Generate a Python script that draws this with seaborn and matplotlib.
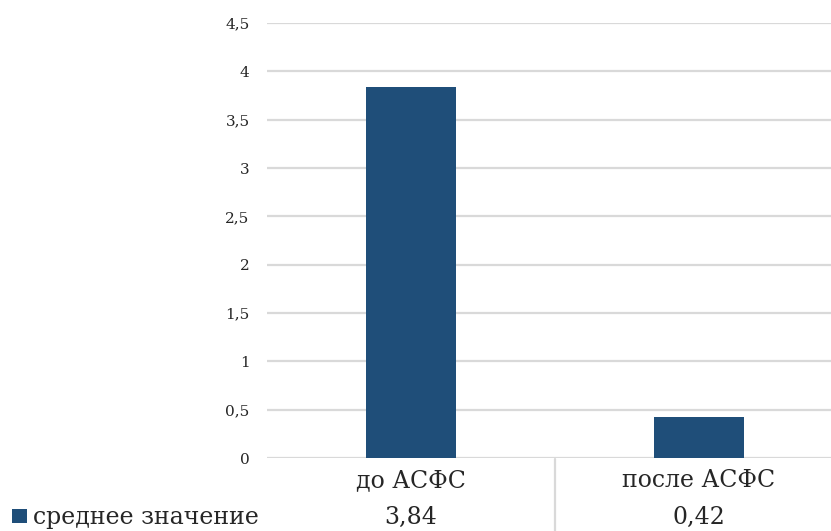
import matplotlib
matplotlib.use("Agg")
import matplotlib.pyplot as plt
import matplotlib.transforms as mtransforms
from matplotlib.patches import Rectangle
from matplotlib.lines import Line2D
from matplotlib.font_manager import FontProperties
import seaborn as sns

categories = ["до АСФС", "после АСФС"]
values = [3.84, 0.42]
series_name = "среднее значение"
y_ticks = [0, 0.5, 1, 1.5, 2, 2.5, 3, 3.5, 4, 4.5]

bar_color = "#1f4e79"
grid_color = "#d9d9d9"
text_color = "#262626"

sns.set_theme(style="white")

table_fp = FontProperties(family="DejaVu Serif", size=17)
tick_fp = FontProperties(family="DejaVu Serif", size=11)

W, H = 831, 531
fig = plt.figure(figsize=(W / 100, H / 100), dpi=100)
ax = fig.add_axes([267 / W, (H - 458) / H, 1 - 267 / W, (458 - 23) / H])

sns.barplot(x=categories, y=values, color=bar_color, width=0.3125,
            saturation=1, ax=ax, edgecolor=bar_color, linewidth=0)

# category band is 288 px wide; the right band runs past the figure edge
ax.set_xlim(-0.5, 1.5 - 12 / 288)
ax.set_ylim(0, 4.5)
ax.set_yticks(y_ticks)
ax.set_yticklabels([f"{t:g}".replace(".", ",") for t in y_ticks],
                   fontproperties=tick_fp, color=text_color)
ax.tick_params(axis="y", length=0, pad=12.5)
ax.tick_params(axis="x", length=0, labelbottom=False)
ax.set_xlabel("")
ax.set_ylabel("")
ax.yaxis.grid(True, color=grid_color, linewidth=1.6)
ax.set_axisbelow(True)
for s in ax.spines.values():
    s.set_visible(False)

# data table below the plot
trans = mtransforms.blended_transform_factory(ax.transData, fig.transFigure)
for i, (cat, val) in enumerate(zip(categories, values)):
    ax.text(i, 1 - 487 / H, cat, transform=trans, ha="center", va="baseline",
            fontproperties=table_fp, color=text_color)
    ax.text(i, 1 - 524 / H, f"{val:.2f}".replace(".", ","), transform=trans,
            ha="center", va="baseline", fontproperties=table_fp, color=text_color)

fig.add_artist(Line2D([555 / W, 555 / W], [0, 1 - 459 / H],
                      transform=fig.transFigure, color=grid_color, linewidth=1.6))

fig.add_artist(Rectangle((12 / W, 1 - 523 / H), 15 / W, 14 / H,
                         transform=fig.transFigure, facecolor=bar_color,
                         edgecolor="none"))
fig.text(33 / W, 1 - 524 / H, series_name, ha="left", va="baseline",
         fontproperties=table_fp, color=text_color)

fig.savefig("out.png", dpi=100)
